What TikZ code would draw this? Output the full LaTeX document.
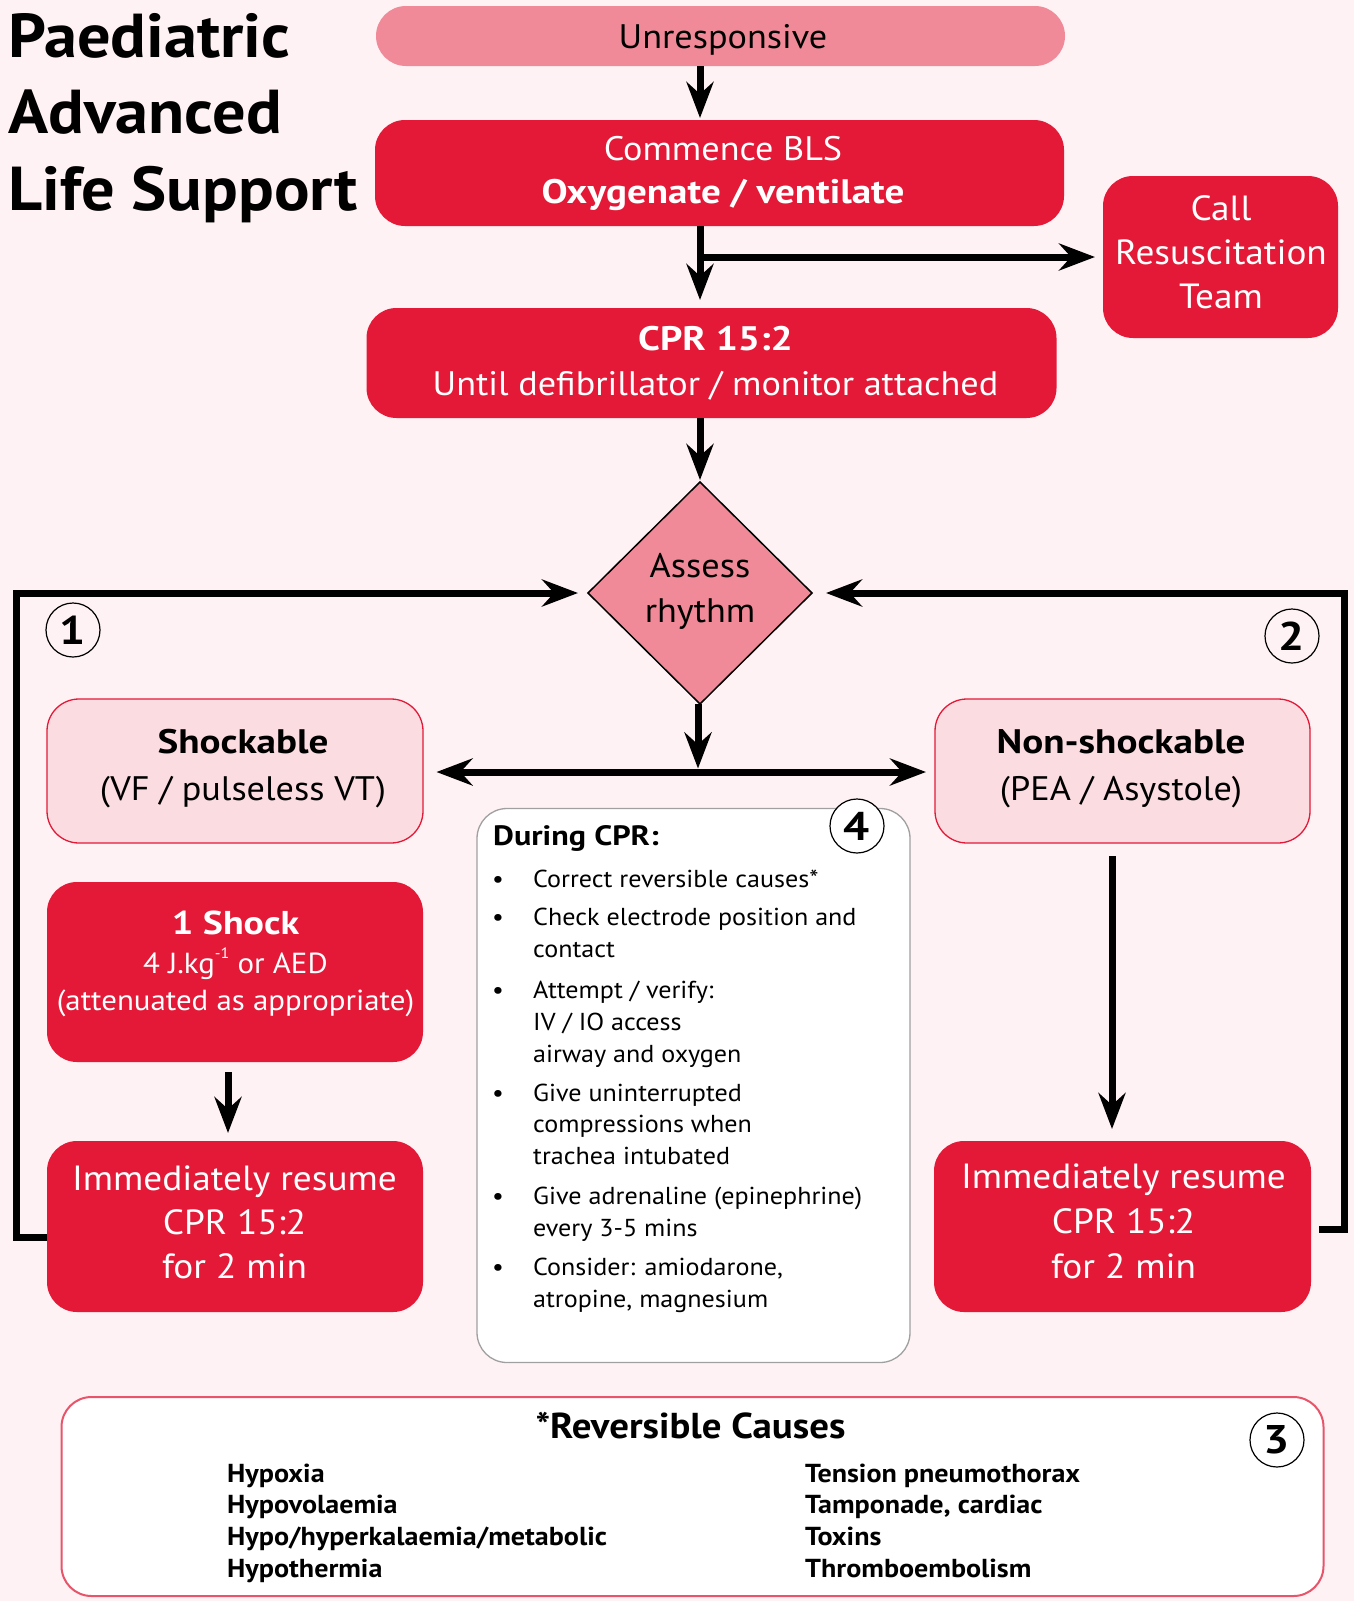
\documentclass[tikz,border=0pt]{standalone}
\usepackage{fontspec}
\setmainfont{PT Sans}[FakeStretch=1.065, BoldFeatures={FakeStretch=1.15}]
\newfontfamily\condfont{PT Sans}[FakeStretch=1.08]
\newfontfamily\titlefont{PT Sans}[FakeStretch=1.07]
\usetikzlibrary{shapes.geometric,arrows.meta,calc}
\definecolor{bgc}{HTML}{FEF2F4}
\definecolor{mainred}{HTML}{E31937}
\definecolor{lightred}{HTML}{F08A98}
\definecolor{palepink}{HTML}{FBDCE1}
\definecolor{graybd}{HTML}{A0A0A0}
\definecolor{pinkbd}{HTML}{E8546A}
\newcommand\fsz[1]{\fontsize{#1}{#1}\selectfont}
\begin{document}
\begin{tikzpicture}[x=1pt,y=-1pt,
  >={Stealth[length=36pt,width=27pt,inset=12pt]},
  base/.style={inner sep=0pt, outer sep=0pt},
  redbox/.style={base, rectangle, rounded corners=30pt, fill=mainred},
  pinkbox/.style={base, rectangle, rounded corners=32pt, fill=palepink, draw=mainred, line width=1.3pt},
  wt/.style={text=white, anchor=base, inner sep=0pt},
  bk/.style={text=black, anchor=base, inner sep=0pt},
  arr/.style={line width=7pt, ->},
  arrboth/.style={line width=7pt, <->},
  numc/.style={circle, draw=black, line width=1.2pt, minimum size=54pt, inner sep=0pt, font=\bfseries\fsz{40}},
  item/.style={bk, anchor=base west, font=\fsz{24.5}},
  bul/.style={bk, font=\fsz{24.5}},
  cause/.style={bk, anchor=base west, font=\condfont\bfseries\fsz{26}}
]
\fill[bgc] (0,0) rectangle (1354,1601);
\useasboundingbox (0,0) rectangle (1354,1601);

% title
\node[bk, anchor=base west, font=\titlefont\bfseries\fsz{62}] (t1) at (8,57) {Paediatric};
\node[bk, anchor=base west, font=\titlefont\bfseries\fsz{62}] (t2) at (8,133) {Advanced};
\node[bk, anchor=base west, font=\titlefont\bfseries\fsz{62}] (t3) at (8,210) {Life Support};

% boxes
\node[base, rectangle, rounded corners=30pt, fill=lightred, minimum width=689pt, minimum height=60pt] (unresp) at (720.5,36) {};
\node[bk, font=\fsz{34}] at (723,48) {Unresponsive};

\node[redbox, minimum width=689pt, minimum height=106pt] (bls) at (719.5,173) {};
\node[wt, font=\fsz{34}] at (723,160) {Commence BLS};
\node[wt, font=\bfseries\fsz{34}] at (723,203) {Oxygenate / ventilate};

\node[redbox, minimum width=235pt, minimum height=162pt] (call) at (1220.5,257) {};
\node[wt, font=\fsz{35}] at (1221,220) {Call};
\node[wt, font=\fsz{35}] at (1221,264) {Resuscitation};
\node[wt, font=\fsz{35}] at (1221,308) {Team};

\node[redbox, minimum width=690pt, minimum height=110pt] (cpr) at (711.5,363) {};
\node[wt, font=\bfseries\fsz{34}] at (715.5,350) {CPR 15:2};
\node[wt, font=\fsz{34}] at (715.5,395) {Until defibrillator / monitor attached};

\node[base, diamond, fill=lightred, draw=black, line width=1.5pt, minimum width=224pt, minimum height=222pt] (dia) at (700,593) {};
\node[bk, font=\fsz{34}] at (700,577) {Assess};
\node[bk, font=\fsz{34}] at (700,622) {rhythm};

\node[pinkbox, minimum width=376pt, minimum height=144pt] (shock) at (235,771) {};
\node[bk, font=\bfseries\fsz{34}] at (243,753) {Shockable};
\node[bk, font=\fsz{34}] at (243,800) {(VF / pulseless VT)};

\node[pinkbox, minimum width=375pt, minimum height=144pt] (nonshock) at (1122.5,771) {};
\node[bk, font=\bfseries\fsz{34}] at (1121,753) {Non-shockable};
\node[bk, font=\fsz{34}] at (1121,800) {(PEA / Asystole)};

\node[redbox, minimum width=376pt, minimum height=180pt] (shock1) at (235,972) {};
\node[wt, font=\bfseries\fsz{33}] at (235.5,934) {1 Shock};
\node[wt, font=\fsz{29}] at (235.5,973) {4 J.kg\raisebox{0.5em}{\fsz{15}-1} or AED};
\node[wt, font=\fsz{29}] at (235.5,1010) {(attenuated as appropriate)};

\node[redbox, minimum width=376pt, minimum height=171pt] (resL) at (235,1226.5) {};
\node[wt, font=\fsz{35}] at (234.5,1190) {Immediately resume};
\node[wt, font=\fsz{35}] at (234.5,1234) {CPR 15:2};
\node[wt, font=\fsz{35}] at (234.5,1278) {for 2 min};

\node[redbox, minimum width=377pt, minimum height=171pt] (resR) at (1122.5,1226.5) {};
\node[wt, font=\fsz{35}] at (1123.5,1188) {Immediately resume};
\node[wt, font=\fsz{35}] at (1123.5,1233) {CPR 15:2};
\node[wt, font=\fsz{35}] at (1123.5,1278) {for 2 min};

% During CPR box
\node[base, rectangle, rounded corners=30pt, fill=white, draw=graybd, line width=1.3pt, minimum width=433pt, minimum height=554pt] (during) at (693.5,1085.5) {};
\node[bk, anchor=base west, font=\bfseries\fsz{28}] at (493,845.5) {During CPR:};
\node[bul] at (498,887) {\textbullet};
\node[item] at (533,887) {Correct reversible causes*};
\node[bul] at (498,925) {\textbullet};
\node[item] at (533,925) {Check electrode position and};
\node[item] at (533,957) {contact};
\node[bul] at (498,998) {\textbullet};
\node[item] at (533,998) {Attempt / verify:};
\node[item] at (533,1030) {IV / IO access};
\node[item] at (533,1062) {airway and oxygen};
\node[bul] at (498,1101) {\textbullet};
\node[item] at (533,1101) {Give uninterrupted};
\node[item] at (533,1132) {compressions when};
\node[item] at (533,1164) {trachea intubated};
\node[bul] at (498,1204) {\textbullet};
\node[item] at (533,1204) {Give adrenaline (epinephrine)};
\node[item] at (533,1236) {every 3-5 mins};
\node[bul] at (498,1275) {\textbullet};
\node[item] at (533,1275) {Consider: amiodarone,};
\node[item] at (533,1307) {atropine, magnesium};

% Reversible causes box
\node[base, rectangle, rounded corners=30pt, fill=white, draw=pinkbd, line width=2pt, minimum width=1262pt, minimum height=199pt] (causes) at (692.5,1496.5) {};
\node[bk, font=\condfont\bfseries\fsz{36}] at (690.5,1438) {*Reversible Causes};
\node[cause] at (227,1482) {Hypoxia};
\node[cause] at (227,1513) {Hypovolaemia};
\node[cause] at (227,1545) {Hypo/hyperkalaemia/metabolic};
\node[cause] at (227,1577) {Hypothermia};
\node[cause] at (805,1482) {Tension pneumothorax};
\node[cause] at (805,1513) {Tamponade, cardiac};
\node[cause] at (805,1545) {Toxins};
\node[cause] at (805,1577) {Thromboembolism};

% numbered circles
\node[numc] (n1) at (73,630) {1};
\node[numc] (n2) at (1292,636) {2};
\node[numc, fill=white] (n3) at (1277,1440) {3};
\node[numc, fill=white] (n4) at (857,826) {4};

% connectors
\coordinate (split) at (698,772);
\draw[arr, shorten >=2pt] (unresp.south -| dia.north) -- (bls.north -| dia.north);
\draw[arr, shorten >=8pt] (bls.south -| dia.north) -- (cpr.north -| dia.north);
\draw[arr, shorten >=8pt] (call.west -| dia.north) -- (call.west);
\draw[arr, shorten >=2pt] (cpr.south -| dia.north) -- (dia.north);
\draw[arr, shorten >=3.5pt] (dia.south -| split) -- (split);
\draw[arrboth, shorten <=13.5pt, shorten >=9pt] (split -| shock.east) -- (split -| nonshock.west);
\draw[arr, shorten <=10pt, shorten >=8pt] ([xshift=-7pt]shock1.south) -- ([xshift=-7pt]resL.north);
\draw[arr, shorten <=13pt, shorten >=12pt] ([xshift=-10.5pt]nonshock.south) -- ([xshift=-10.5pt]resR.north);
\draw[arr, shorten >=10pt] ([yshift=-10.5pt]resL.west) -- ++(-31,0) |- (dia.west);
\draw[arr, shorten <=8pt, shorten >=14pt] ([yshift=-2.5pt]resR.east) -- ++(33,0) |- (dia.east);
\end{tikzpicture}
\end{document}
